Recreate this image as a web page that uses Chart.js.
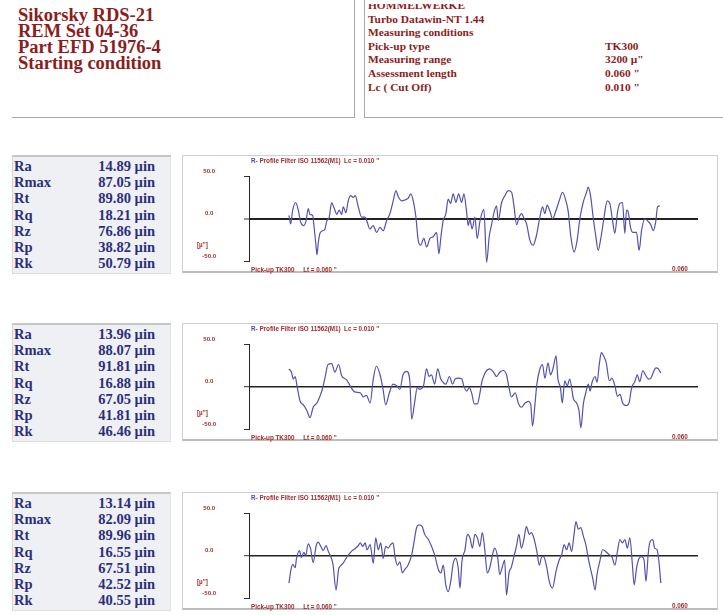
<!DOCTYPE html>
<html>
<head>
<meta charset="utf-8">
<script src="https://cdn.jsdelivr.net/npm/chart.js@4.4.1/dist/chart.umd.min.js"></script>
<style>
  html, body { margin: 0; padding: 0; background: #fff; }
  body { width: 723px; height: 615px; position: relative; overflow: hidden;
         font-family: "Liberation Serif", "Times New Roman", serif; }
  .abs { position: absolute; }
  .hdrL { left: 12px; top: -2px; width: 342px; height: 119px;
          border-right: 1px solid #a8a8a8; border-bottom: 1px solid #a8a8a8; }
  .hdrR { left: 364px; top: -2px; width: 370px; height: 119px;
          border-left: 1px solid #a8a8a8; border-bottom: 1px solid #a8a8a8; overflow: hidden; }
  .hl { color: #8c1d1d; font-weight: bold; font-size: 18.5px; line-height: 16px; white-space: nowrap; }
  .hr { color: #8c1d1d; font-weight: bold; font-size: 11.4px; line-height: 13.6px; white-space: nowrap; }
  .pbox { left: 12px; width: 157px; height: 116px; background: #eff0f3;
          border-top: 2px solid #c6c6c6; border-left: 1px solid #d6d6d6;
          border-right: 1px solid #e2e2e2; border-bottom: 1px solid #dedede; }
  .prow { color: #2c2e7c; font-weight: bold; font-size: 14.5px; line-height: 16.2px; white-space: nowrap; }
  .cbox { left: 182px; width: 536px; height: 118px; background: #fff;
          border: 1px solid #cfcfcf; border-bottom: 2px solid #bcbcbc; box-sizing: border-box; }
  .small { font-family: "Liberation Sans", Arial, sans-serif; font-weight: bold; font-size: 6.3px;
           line-height: 7px; color: #a02c2c; white-space: pre; }
  canvas { position: absolute; }
</style>
</head>
<body>
<script>
// Report header
const headerLeft = ['Sikorsky RDS-21', 'REM Set 04-36', 'Part EFD 51976-4', 'Starting condition'];
const headerRightLabels = ['HOMMELWERKE', 'Turbo Datawin-NT 1.44', 'Measuring conditions',
                           'Pick-up type', 'Measuring range', 'Assessment length', 'Lc  ( Cut Off)'];
const headerRightValues = ['', '', '', 'TK300', '3200 \u00b5"', '0.060 "', '0.010 "'];

// Roughness parameters, µin
const paramNames = ['Ra', 'Rmax', 'Rt', 'Rq', 'Rz', 'Rp', 'Rk'];
const paramsA = [14.89, 87.05, 89.80, 18.21, 76.86, 38.82, 50.79];
const paramsB = [13.96, 88.07, 91.81, 16.88, 67.05, 41.81, 46.46];
const paramsC = [13.14, 82.09, 89.96, 16.55, 67.51, 42.52, 40.55];

// Vertical scale ticks, µin
const yTicks = [-50, 0, 50];
const traceEnd = '0.060';

// R-profile traces: position along trace (0.001") and deviation (µin)
const posA = [0.00,0.27,0.60,1.08,1.50,1.89,2.31,2.74,3.11,3.39,3.82,4.03,4.35,4.52,4.73,5.00,5.44,5.81,6.08,6.50,
  6.89,7.15,7.42,7.69,8.11,8.50,8.76,9.19,9.56,9.95,10.37,10.69,11.18,11.73,12.26,12.58,13.06,13.60,14.15,14.68,
  15.21,15.76,16.29,16.82,17.26,17.63,18.18,18.71,19.24,19.63,20.05,20.48,20.85,21.24,21.77,22.21,22.74,23.27,23.82,24.19,
  24.52,24.89,25.32,25.69,26.08,26.50,26.94,27.37,27.86,28.23,28.66,28.92,29.19,29.56,30.00,30.37,30.81,31.45,31.89,32.31,
  32.69,33.11,33.50,33.76,34.31,34.84,35.37,35.92,36.29,36.73,37.15,37.53,37.95,38.34,38.87,39.40,39.95,40.48,40.92,41.29,
  41.66,42.10,42.53,43.06,43.60,44.15,44.68,45.05,45.48,46.02,46.50,46.94,47.47,48.02,48.27,48.66,49.08,49.52,49.89,50.27,
  50.81,51.34,51.77,52.21,52.58,53.02,53.39,53.82,54.19,54.47,54.73,55.11,55.53,56.08,56.50,56.89,57.42,57.95,58.39,58.76,
  59.19,59.47,59.84];
const devA = [4,-6,10,19,10,-4,-8,-3,12,5,4,-8,-31,-42,-28,-17,-14,-12,-3,2,
  19,15,10,5,10,5,14,7,21,27,25,27,14,2,2,-3,-12,-8,-16,-10,
  -14,-2,6,21,33,26,21,22,24,29,21,2,-25,-31,-23,-33,-23,-21,-16,-41,
  -21,-2,6,23,18,29,19,29,19,29,8,-8,-1,-12,2,-23,-3,11,-51,-21,
  -7,8,15,-2,19,27,33,31,16,-7,2,6,0,-6,-25,-31,-19,2,14,6,
  16,9,0,9,21,31,21,9,-21,-39,-25,0,19,31,37,27,2,-21,-37,-25,
  0,21,18,-2,-17,8,18,19,-17,10,8,-10,-16,-16,-37,-14,0,-3,-7,-14,
  -3,14,15];

const posB = [0.0,0.4,0.7,1.0,1.3,1.8,2.3,2.9,3.4,3.9,4.5,5.0,5.3,5.8,6.3,6.9,7.4,8.0,8.5,9.3,
  9.8,10.6,11.5,12.0,12.5,13.1,13.6,14.1,14.7,15.2,15.6,16.2,16.8,17.4,17.9,18.4,19.0,19.5,19.8,20.3,
  20.7,21.1,21.7,22.2,22.6,23.0,23.5,24.0,24.5,24.9,25.3,25.9,26.4,26.8,27.4,27.9,28.2,28.7,29.1,29.5,
  29.9,30.4,30.8,31.1,31.5,31.9,32.4,33.0,33.5,34.0,34.6,35.1,35.5,35.9,36.5,37.0,37.5,38.1,38.6,39.0,
  39.3,39.7,40.0,40.5,40.9,41.3,41.8,42.2,42.6,43.1,43.4,43.8,44.1,44.5,44.9,45.3,45.9,46.4,46.8,47.1,
  47.5,47.9,48.3,48.6,48.9,49.4,49.7,50.1,50.4,50.9,51.2,51.7,52.1,52.6,53.0,53.4,53.9,54.5,54.9,55.3,
  55.8,56.2,56.6,57.1,57.5,58.0,58.4,58.8,59.2,59.6,60.0];
const devB = [21,17,9,12,1,-17,-21,-28,-36,-24,-19,-11,-5,10,26,27,17,26,13,8,
  2,-6,-7,-12,-10,-19,9,24,14,-4,-21,-7,3,1,-3,14,18,7,-38,-17,
  -1,-3,1,21,12,14,3,21,9,5,3,12,3,9,10,9,1,-5,-1,-8,
  -20,-20,-8,5,14,19,21,17,12,17,19,14,-1,-12,-7,-19,-24,-19,-17,-20,
  -46,-20,3,21,26,10,28,14,21,36,9,-1,-19,7,1,9,-14,-19,-28,-48,
  -20,-7,3,-5,5,12,5,28,40,34,28,7,10,1,-11,-9,-20,-22,-18,-1,
  6,14,6,19,14,9,10,17,22,21,16];

const posC = [0.0,0.3,0.6,1.0,1.2,1.7,2.0,2.4,2.7,3.1,3.5,3.9,4.4,4.7,5.2,5.5,6.0,6.3,6.8,7.1,
  7.6,8.0,8.3,8.8,9.3,9.7,10.2,10.6,11.2,11.5,11.9,12.3,12.6,13.1,13.6,14.0,14.4,14.8,15.2,15.6,
  16.0,16.4,16.8,17.1,17.5,17.9,18.3,18.7,19.2,19.8,20.2,20.6,21.0,21.5,21.9,22.5,23.0,23.5,24.1,24.5,
  24.9,25.3,25.7,26.1,26.5,26.9,27.3,27.6,27.9,28.4,28.8,29.2,29.6,30.0,30.4,30.8,31.2,31.6,32.0,32.4,
  32.9,33.2,33.7,34.0,34.5,34.8,35.1,35.5,35.9,36.3,36.7,37.1,37.5,37.9,38.3,38.8,39.1,39.5,40.0,40.4,
  40.8,41.1,41.6,42.0,42.5,43.1,43.6,44.0,44.4,44.8,45.2,45.6,46.0,46.3,46.7,47.1,47.5,47.9,48.4,49.0,
  49.4,49.7,50.2,50.6,51.1,51.7,52.1,52.6,53.0,53.4,53.8,54.2,54.6,55.0,55.4,55.7,56.1,56.5,56.9,57.3,
  57.6,58.0,58.3,58.7,59.0,59.4,59.7,60.0];
const devC = [-32,-17,-10,-14,-4,6,-2,4,0,14,8,-8,12,16,10,6,12,6,-2,-10,
  -40,-16,-12,-8,-2,2,6,8,12,15,11,15,7,13,-9,21,7,15,-3,11,
  9,13,15,-1,-11,-7,-20,-16,-11,1,17,33,36,34,25,19,11,1,-16,-20,
  -11,-34,-42,-30,-9,-3,-14,-38,-7,7,25,21,9,25,21,11,27,7,-20,-14,
  3,9,-3,-22,-11,-5,-46,-20,-13,-1,11,25,9,19,34,25,27,21,5,-11,
  -1,-1,-14,-30,-38,-18,-5,1,13,7,15,5,25,40,31,33,23,13,-7,-26,
  -40,-22,-5,7,5,1,-1,-11,5,19,15,19,9,21,-9,-34,-14,-3,-1,-5,
  -30,5,17,19,9,7,-7,-32];

// ---------- page building ----------
function el(cls, style, text) {
  const d = document.createElement('div');
  d.className = 'abs ' + cls;
  Object.assign(d.style, style);
  if (text !== undefined) d.textContent = text;
  document.body.appendChild(d);
  return d;
}

el('hdrL', {});
const hr = el('hdrR', {});
headerLeft.forEach((t, i) => el('hl', { left: '18px', top: (7 + i * 16) + 'px' }, t));
headerRightLabels.forEach((t, i) => {
  const a = document.createElement('div');
  a.className = 'abs hr';
  a.style.left = '3px'; a.style.top = (1 + i * 13.6) + 'px';
  a.textContent = t; hr.appendChild(a);
  if (headerRightValues[i]) {
    const b = document.createElement('div');
    b.className = 'abs hr';
    b.style.left = '240px'; b.style.top = (1 + i * 13.6) + 'px';
    b.textContent = headerRightValues[i]; hr.appendChild(b);
  }
});
// top edge of the measuring-conditions block is cut by the page
const cut = document.createElement('div');
cut.className = 'abs'; Object.assign(cut.style, { left: '1px', top: '2px', width: '300px', height: '4px', background: '#fff' });
hr.appendChild(cut);

function buildPanel(top, params, pos, dev, zeroWidth) {
  el('pbox', { top: top + 'px' });
  paramNames.forEach((n, i) => {
    el('prow', { left: '14px', top: (top + 3 + i * 16.2) + 'px' }, n);
    el('prow', { left: '60px', width: '95px', textAlign: 'right', top: (top + 3 + i * 16.2) + 'px' },
       params[i].toFixed(2) + ' \u00b5in');
  });
  el('cbox', { top: top + 'px' });

  const cv = document.createElement('canvas');
  cv.width = 536; cv.height = 119;
  cv.style.left = '182px'; cv.style.top = top + 'px';
  document.body.appendChild(cv);

  const t1 = el('small', { left: '251px', top: (top + 2) + 'px' });
  const r = document.createElement('span'); r.style.color = '#4a4aa8'; r.textContent = 'R- ';
  t1.appendChild(r);
  t1.appendChild(document.createTextNode('Profile Filter ISO 11562(M1)  Lc = 0.010 "'));
  el('small', { left: '197px', top: (top + 86) + 'px' }, '[\u00b5"]');
  el('small', { left: '251px', top: (top + 111) + 'px' }, 'Pick-up TK300     Lt = 0.060 "');
  el('small', { left: '672px', top: (top + 110) + 'px' }, traceEnd);

  const isZero = c => c.tick && c.tick.value === 0;
  new Chart(cv, {
    type: 'line',
    data: {
      datasets: [{
        data: pos.map((x, i) => ({ x: x, y: dev[i] })),
        borderColor: '#5252ae', borderWidth: 1.2, pointRadius: 0,
        cubicInterpolationMode: 'monotone', clip: false
      }]
    },
    options: {
      responsive: false, animation: false, events: [],
      layout: { padding: { left: 0, right: 20, top: 21, bottom: 12.5 } },
      plugins: { legend: { display: false }, tooltip: { enabled: false } },
      scales: {
        x: { type: 'linear', min: -6.45, max: 66.0, display: false },
        y: {
          min: -50, max: 50,
          afterBuildTicks: s => { s.ticks = yTicks.map(v => ({ value: v })); },
          afterFit: s => { s.width = 67; s.paddingTop = 4; s.paddingBottom = 4; },
          border: { display: true, color: '#222', width: 1 },
          grid: {
            color: c => isZero(c) ? '#222' : 'rgba(0,0,0,0)',
            lineWidth: c => isZero(c) ? zeroWidth : 1,
            tickColor: '#333', tickWidth: 1, tickLength: 5, drawOnChartArea: true
          },
          ticks: {
            callback: v => Number(v).toFixed(1),
            font: { family: 'Liberation Sans', size: 6, weight: 'bold' },
            color: '#a02c2c', padding: 28, crossAlign: 'center', labelOffset: -5
          }
        }
      }
    }
  });
}

buildPanel(155, paramsA, posA, devA, 2);
buildPanel(323, paramsB, posB, devB, 1.4);
buildPanel(492, paramsC, posC, devC, 1.4);
</script>
</body>
</html>
